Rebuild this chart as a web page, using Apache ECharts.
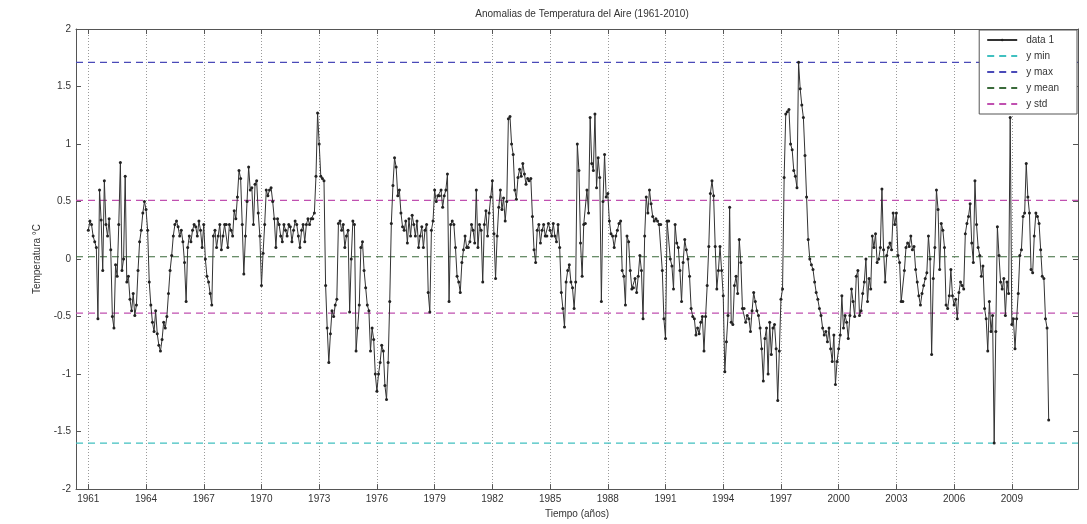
<!DOCTYPE html>
<html>
<head>
<meta charset="utf-8">
<script src="https://cdn.jsdelivr.net/npm/echarts@6/dist/echarts.min.js"></script>
<style>
  html, body { margin: 0; padding: 0; background: #fff; }
  #chart { width: 1087px; height: 524px; }
</style>
</head>
<body>
<div id="chart"></div>
<script>
// anomalías mensuales (°C), enero 1961 .. diciembre 2010
const anom1961_1970 = [
  0.25, 0.33, 0.3, 0.2, 0.15, 0.1, -0.52, 0.6, 0.34, -0.1, 0.68, 0.3,
  0.2, 0.35, 0.08, -0.5, -0.6, -0.05, -0.15, 0.3, 0.84, -0.1, 0.0, 0.72,
  -0.2, -0.15, -0.35, -0.45, -0.3, -0.49, -0.4, -0.1, 0.15, 0.25, 0.4, 0.5,
  0.43, 0.25, -0.2, -0.4, -0.55, -0.63, -0.45, -0.65, -0.75, -0.8, -0.7, -0.55,
  -0.6, -0.5, -0.3, -0.1, 0.03, 0.2, 0.3, 0.33, 0.28, 0.2, 0.25, 0.15,
  -0.03, -0.37, 0.1, 0.2, 0.15, 0.25, 0.3, 0.28, 0.2, 0.33, 0.25, 0.1,
  0.3, 0.0, -0.15, -0.2, -0.3, -0.4, 0.2, 0.25, 0.1, 0.2, 0.3, 0.08,
  0.2, 0.3, 0.3, 0.1, 0.3, 0.25, 0.2, 0.42, 0.35, 0.54, 0.77, 0.7,
  0.3, -0.13, 0.2, 0.5, 0.8, 0.6, 0.62, 0.3, 0.65, 0.68, 0.4, 0.2,
  -0.23, 0.05, 0.3, 0.6, 0.55, 0.6, 0.62, 0.5, 0.35, 0.1, 0.35, 0.3
];
const anom1971_1980 = [
  0.2, 0.15, 0.3, 0.25, 0.2, 0.3, 0.28, 0.15, 0.25, 0.33, 0.3, 0.2,
  0.1, 0.25, 0.3, 0.15, 0.3, 0.35, 0.3, 0.35, 0.35, 0.4, 0.72, 1.27,
  1.0, 0.72, 0.7, 0.68, -0.23, -0.6, -0.9, -0.65, -0.45, -0.5, -0.4, -0.35,
  0.31, 0.33, 0.25, 0.3, 0.1, 0.2, 0.25, -0.46, 0.0, 0.33, 0.3, -0.8,
  -0.6, -0.4, 0.1, 0.15, -0.1, -0.25, -0.4, -0.45, -0.8, -0.6, -0.7, -1.0,
  -1.15, -1.0, -0.9, -0.75, -0.8, -1.1, -1.22, -0.9, -0.37, 0.31, 0.64, 0.88,
  0.8, 0.55, 0.6, 0.4, 0.28, 0.25, 0.33, 0.14, 0.35, 0.2, 0.38, 0.3,
  0.2, 0.33, 0.1, 0.2, 0.28, 0.1, 0.25, 0.3, -0.29, -0.46, 0.25, 0.33,
  0.6, 0.5, 0.55, 0.55, 0.6, 0.45, 0.55, 0.6, 0.74, -0.37, 0.3, 0.33,
  0.3, 0.1, -0.15, -0.2, -0.29, -0.03, 0.08, 0.2, 0.1, 0.1, 0.15, 0.3
];
const anom1981_1990 = [
  0.25, 0.14, 0.6, 0.1, 0.3, 0.25, -0.2, 0.3, 0.42, 0.2, 0.4, 0.54,
  0.68, 0.22, -0.17, 0.2, 0.45, 0.6, 0.43, 0.53, 0.33, 0.5, 1.22, 1.24,
  1.0, 0.91, 0.6, 0.52, 0.71, 0.78, 0.72, 0.83, 0.74, 0.65, 0.7, 0.68,
  0.7, 0.37, 0.08, -0.03, 0.25, 0.3, 0.14, 0.25, 0.3, 0.2, 0.2, 0.31,
  0.25, 0.2, 0.31, 0.2, 0.15, 0.3, 0.1, -0.29, -0.43, -0.59, -0.2, -0.1,
  -0.05, -0.2, -0.25, -0.43, -0.2, 1.0, 0.77, 0.14, -0.15, 0.3, 0.31, 0.6,
  0.4, 1.23, 0.83, 0.77, 1.26, 0.62, 0.88, 0.71, -0.37, 0.5, 0.91, 0.54,
  0.57, 0.33, 0.22, 0.2, 0.1, 0.2, 0.25, 0.31, 0.33, -0.1, -0.15, -0.4,
  0.2, 0.15, -0.1, -0.26, -0.25, -0.17, -0.29, -0.15, 0.03, -0.1, -0.52, 0.2,
  0.54, 0.4, 0.6, 0.48, 0.37, 0.33, 0.35, 0.33, 0.3, 0.3, -0.1, -0.52
];
const anom1991_2000 = [
  -0.69, 0.33, 0.33, 0.0, -0.06, -0.26, 0.3, 0.14, 0.1, -0.1, -0.37, -0.03,
  0.17, 0.08, 0.0, -0.15, -0.43, -0.5, -0.52, -0.66, -0.6, -0.65, -0.55, -0.5,
  -0.8, -0.5, -0.23, 0.11, 0.57, 0.68, 0.55, 0.11, -0.26, -0.1, 0.11, -0.1,
  -0.32, -0.98, -0.72, -0.49, 0.45, -0.55, -0.57, -0.23, -0.15, -0.3, 0.17, -0.03,
  -0.43, -0.43, -0.55, -0.49, -0.52, -0.63, -0.45, -0.29, -0.37, -0.45, -0.49, -0.6,
  -0.78, -1.06, -0.69, -0.6, -1.0, -0.55, -0.83, -0.6, -0.57, -0.78, -1.23, -0.8,
  -0.35, -0.26, 0.71, 1.26, 1.28, 1.3, 1.0, 0.95, 0.77, 0.72, 0.62, 1.71,
  1.48, 1.34, 1.23, 0.9, 0.54, 0.17, 0.0, -0.05, -0.09, -0.2, -0.29, -0.35,
  -0.43, -0.49, -0.6, -0.66, -0.63, -0.72, -0.6, -0.78, -0.89, -0.66, -1.09, -0.89,
  -0.78, -0.66, -0.32, -0.6, -0.49, -0.55, -0.69, -0.49, -0.26, -0.37, -0.5, -0.15
];
const anom2001_2010 = [
  -0.1, -0.49, -0.45, -0.3, -0.2, 0.0, -0.37, -0.17, -0.26, 0.2, 0.1, 0.22,
  -0.03, 0.0, 0.1, 0.61, 0.08, -0.2, 0.03, 0.1, 0.14, 0.08, 0.4, 0.3,
  0.4, 0.03, -0.03, -0.37, -0.37, -0.1, 0.1, 0.14, 0.11, 0.2, 0.08, 0.11,
  -0.09, -0.2, -0.32, -0.4, -0.3, -0.23, -0.17, -0.12, 0.2, 0.0, -0.83, -0.17,
  0.1, 0.6, 0.43, -0.09, 0.31, 0.25, 0.1, -0.4, -0.43, -0.32, -0.09, -0.32,
  -0.4, -0.35, -0.52, -0.29, -0.2, -0.23, -0.26, 0.22, 0.31, 0.37, 0.48, 0.14,
  -0.03, 0.68, 0.3, 0.1, 0.03, -0.15, -0.06, -0.43, -0.52, -0.8, -0.37, -0.63,
  -0.49, -1.6, -0.63, 0.28, 0.03, -0.2, -0.26, -0.17, -0.49, -0.2, -0.3, 1.23,
  -0.57, -0.52, -0.78, -0.52, -0.3, 0.03, 0.08, 0.37, 0.4, 0.83, 0.54, 0.4,
  -0.09, -0.12, 0.2, 0.4, 0.37, 0.31, 0.08, -0.15, -0.17, -0.52, -0.6, -1.4
];

// líneas de referencia
const yMin = -1.6;
const yMax = 1.71;
const yMean = 0.02;
const yStdUp = 0.51;
const yStdLow = -0.47;

const yearTicks = [1961, 1964, 1967, 1970, 1973, 1976, 1979, 1982, 1985, 1988, 1991, 1994, 1997, 2000, 2003, 2006, 2009];
const startYear = 1961;
const xLo = 1960.36, xHi = 2012.44;

const FONT = '"Liberation Sans", Arial, sans-serif';
const AXIS_COLOR = '#555';

const allValues = [].concat(anom1961_1970, anom1971_1980, anom1981_1990, anom1991_2000, anom2001_2010);
const seriesData = allValues.map((v, i) => [startYear + i / 12, v]);

const refLine = (name, value, color) => ({
    name: name,
    type: 'line',
    xAxisIndex: 0,
    yAxisIndex: 0,
    symbol: 'none',
    silent: true,
    lineStyle: { color: color, width: 1.2, type: [7, 5] },
    itemStyle: { color: color },
    data: [[xLo, value], [xHi, value]],
    z: 1,
});

// ejes con marcas hacia dentro, estilo matlab
const frameAxis = (extra) => Object.assign({
    type: 'value',
    axisLine: { show: true, onZero: false, lineStyle: { color: AXIS_COLOR, width: 1 } },
    axisTick: { show: true, inside: true, length: 5, lineStyle: { color: AXIS_COLOR } },
    splitLine: { show: false },
}, extra);

const chart = echarts.init(document.getElementById('chart'));

const option = {
    backgroundColor: '#fff',
    animation: false,
    title: {
        text: 'Anomalias de Temperatura del Aire (1961-2010)',
        left: 577,
        textAlign: 'center',
        top: 4,
        textStyle: { fontFamily: FONT, fontSize: 10, fontWeight: 'normal', color: '#333' },
    },
    grid: { left: 76, right: 9, top: 29, bottom: 28, containLabel: false },
    legend: {
        right: 10,
        top: 30,
        orient: 'vertical',
        backgroundColor: '#fff',
        borderColor: AXIS_COLOR,
        borderWidth: 1,
        borderRadius: 0,
        padding: [5, 18, 5, 7],
        itemGap: 6,
        itemWidth: 30,
        itemHeight: 3,
        textStyle: { fontFamily: FONT, fontSize: 10, color: '#333', padding: [0, 0, 0, 4] },
        data: [
            { name: 'data 1' },
            { name: 'y min', itemStyle: { opacity: 0 } },
            { name: 'y max', itemStyle: { opacity: 0 } },
            { name: 'y mean', itemStyle: { opacity: 0 } },
            { name: 'y std', itemStyle: { opacity: 0 } },
        ],
    },
    xAxis: [
        frameAxis({
            min: xLo,
            max: xHi,
            name: 'Tiempo (años)',
            nameLocation: 'middle',
            nameGap: 17,
            nameTextStyle: { fontFamily: FONT, fontSize: 10, color: '#333' },
            axisTick: { show: true, inside: true, length: 5, customValues: yearTicks, lineStyle: { color: AXIS_COLOR } },
            axisLabel: {
                customValues: yearTicks,
                formatter: (v) => String(Math.round(v)),
                fontFamily: FONT, fontSize: 10, color: '#333', margin: 5,
            },
            splitLine: { show: true, lineStyle: { color: '#9a9a9a', type: [1, 2], width: 1 } },
        }),
        frameAxis({
            position: 'top',
            min: xLo,
            max: xHi,
            axisTick: { show: true, inside: true, length: 5, customValues: yearTicks, lineStyle: { color: AXIS_COLOR } },
            axisLabel: { show: false },
        }),
    ],
    yAxis: [
        frameAxis({
            min: -2,
            max: 2,
            interval: 0.5,
            name: 'Temperatura °C',
            nameLocation: 'middle',
            nameGap: 34,
            nameTextStyle: { fontFamily: FONT, fontSize: 10, color: '#333' },
            axisLabel: { fontFamily: FONT, fontSize: 10, color: '#333', margin: 5 },
        }),
        frameAxis({
            position: 'right',
            min: -2,
            max: 2,
            interval: 0.5,
            axisLabel: { show: false },
        }),
    ],
    series: [
        {
            name: 'data 1',
            type: 'line',
            xAxisIndex: 0,
            yAxisIndex: 0,
            data: seriesData,
            showAllSymbol: true,
            symbol: 'circle',
            symbolSize: 3,
            lineStyle: { color: '#333', width: 1 },
            itemStyle: { color: '#222' },
            z: 3,
        },
        refLine('y min', yMin, '#40c0c0'),
        refLine('y max', yMax, '#4a4ab8'),
        refLine('y mean', yMean, '#3a6a3a'),
        refLine('y std', yStdUp, '#c050b0'),
        refLine('y std', yStdLow, '#c050b0'),
    ],
};

chart.setOption(option);
</script>
</body>
</html>
